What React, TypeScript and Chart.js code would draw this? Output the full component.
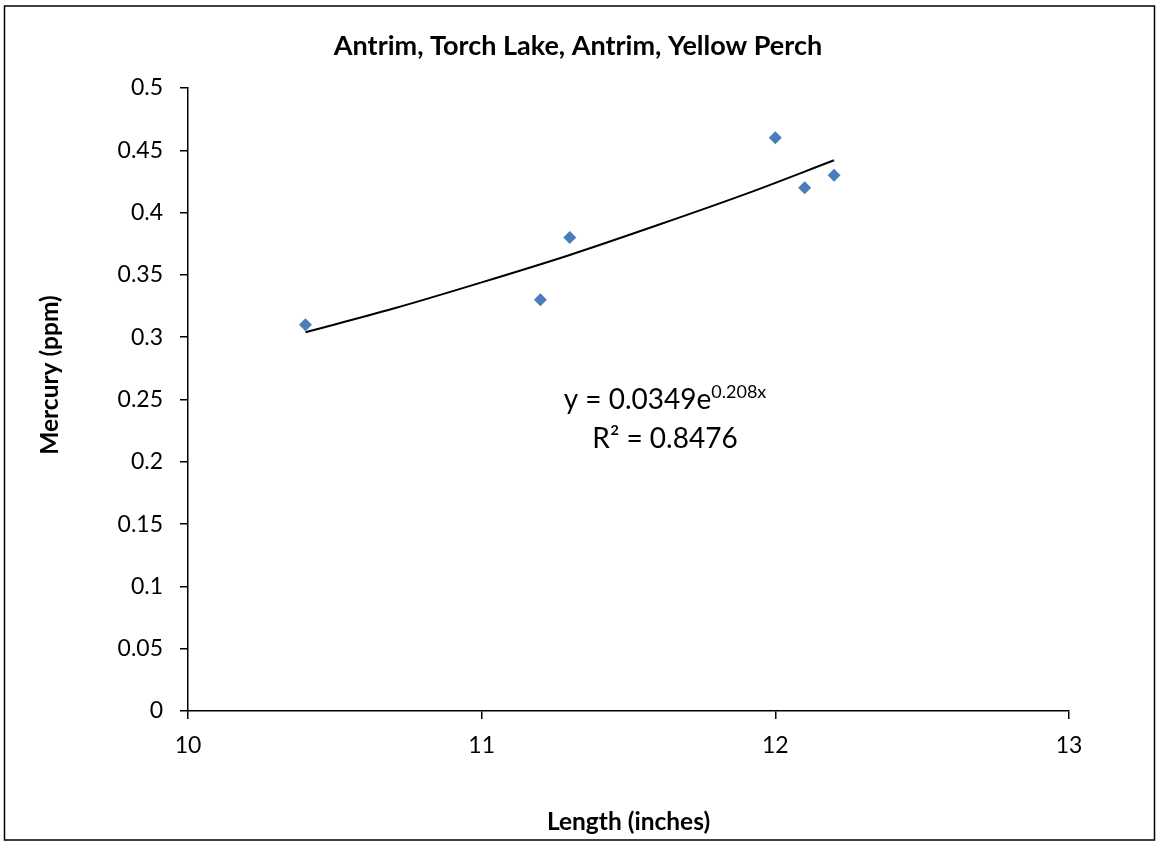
import { useEffect, useRef } from 'react';
import { Chart, registerables } from 'chart.js';

Chart.register(...registerables);

// ---- data ----
const chartTitle = 'Antrim, Torch Lake, Antrim, Yellow Perch';
const xAxisTitle = 'Length (inches)';
const yAxisTitle = 'Mercury (ppm)';

const lengths = [10.4, 11.2, 11.3, 12.0, 12.1, 12.2];
const mercury = [0.31, 0.33, 0.38, 0.46, 0.42, 0.43];

// trendline
const trendLengths = [10.4, 10.7, 11.0, 11.3, 11.6, 11.9, 12.2];
const trendMercury = [0.304, 0.323, 0.344, 0.366, 0.39, 0.415, 0.442];

const xTickLabels = ['10', '11', '12', '13'];
const yTickLabels = ['0', '0.05', '0.1', '0.15', '0.2', '0.25', '0.3', '0.35', '0.4', '0.45', '0.5'];

const equationMain = 'y = 0.0349e';
const equationExp = '0.208x';
const rSquared = 'R² = 0.8476';

const FONT = 'Lato, "Open Sans", sans-serif';

export default function App() {
  const ref = useRef<HTMLCanvasElement | null>(null);

  useEffect(() => {
    const canvas = ref.current;
    if (!canvas) return;

    const framePlugin = {
      id: 'frame',
      beforeDraw(chart: any) {
        const ctx = chart.ctx;
        ctx.save();
        ctx.fillStyle = '#ffffff';
        ctx.fillRect(0, 0, chart.width, chart.height);
        ctx.strokeStyle = '#000000';
        ctx.lineWidth = 1.5;
        ctx.strokeRect(4.5, 6, 1150, 834);
        ctx.restore();
      },
    };

    const annotPlugin = {
      id: 'annot',
      afterDraw(chart: any) {
        const ctx = chart.ctx;
        ctx.save();
        ctx.fillStyle = '#000000';
        ctx.textBaseline = 'alphabetic';
        ctx.textAlign = 'left';
        // equation
        const mainFont = `28px ${FONT}`;
        const supFont = `18px ${FONT}`;
        ctx.font = mainFont;
        const w1 = ctx.measureText(equationMain).width;
        ctx.font = supFont;
        const w2 = ctx.measureText(equationExp).width;
        const cx = 665;
        const start = cx - (w1 + w2) / 2;
        ctx.font = mainFont;
        ctx.fillText(equationMain, start, 409);
        ctx.font = supFont;
        ctx.fillText(equationExp, start + w1, 398);
        ctx.font = mainFont;
        ctx.textAlign = 'center';
        ctx.fillText(rSquared, cx, 448);

        // y axis title
        ctx.font = `bold 24.5px ${FONT}`;
        ctx.translate(50, 375);
        ctx.rotate(-Math.PI / 2);
        ctx.textAlign = 'center';
        ctx.textBaseline = 'middle';
        ctx.fillText(yAxisTitle, 0, 0);
        ctx.restore();
      },
    };

    const chart = new Chart(canvas, {
      type: 'scatter',
      data: {
        datasets: [
          {
            label: 'Mercury',
            data: lengths.map((x, i) => ({ x, y: mercury[i] })),
            pointStyle: 'rectRot',
            pointRadius: 6.5,
            pointBackgroundColor: '#4A7EBB',
            pointBorderColor: '#4A7EBB',
            pointBorderWidth: 0,
            showLine: false,
          },
          {
            label: 'Trend',
            data: trendLengths.map((x, i) => ({ x, y: trendMercury[i] })),
            showLine: true,
            borderColor: '#000000',
            borderWidth: 2,
            pointRadius: 0,
            fill: false,
            cubicInterpolationMode: 'monotone',
          } as any,
        ],
      },
      options: {
        animation: false,
        responsive: false,
        devicePixelRatio: 1,
        layout: { padding: 0 },
        plugins: {
          legend: { display: false },
          tooltip: { enabled: false },
          title: {
            display: true,
            text: chartTitle,
            color: '#000000',
            font: { family: FONT, size: 27, weight: 'bold' },
            padding: { top: 30, bottom: 25.6 },
          },
        },
        scales: {
          x: {
            type: 'linear',
            min: 10,
            max: 13,
            ticks: {
              stepSize: 1,
              color: '#000000',
              font: { family: FONT, size: 23 },
              padding: 13,
              callback: (_v: any, i: number) => xTickLabels[i],
            },
            grid: { drawOnChartArea: false, drawTicks: true, tickLength: 8, color: '#000000', lineWidth: 1.5 },
            border: { display: true, color: '#000000', width: 1.5 },
            title: {
              display: true,
              text: xAxisTitle,
              color: '#000000',
              font: { family: FONT, size: 24.5, weight: 'bold' },
              padding: { top: 0, bottom: 5.3 },
            },
            afterFit: (s: any) => {
              s.height = 131;
            },
          },
          y: {
            type: 'linear',
            min: 0,
            max: 0.5,
            ticks: {
              stepSize: 0.05,
              color: '#000000',
              font: { family: FONT, size: 23 },
              padding: 17,
              callback: (_v: any, i: number) => yTickLabels[i],
            },
            grid: { drawOnChartArea: false, drawTicks: true, tickLength: 8, color: '#000000', lineWidth: 1.5 },
            border: { display: true, color: '#000000', width: 1.5 },
            afterFit: (s: any) => {
              s.width = 188;
            },
          },
          y2: {
            type: 'linear',
            position: 'right',
            display: true,
            grid: { display: false },
            border: { display: false },
            ticks: { display: false },
            afterFit: (s: any) => {
              s.width = 87;
            },
          },
        },
      } as any,
      plugins: [framePlugin, annotPlugin],
    });

    return () => chart.destroy();
  }, []);

  return (
    <div style={{ position: 'absolute', left: 0, top: 0, width: 1156, height: 842 }}>
      <canvas ref={ref} width={1156} height={842} style={{ display: 'block', width: 1156, height: 842 }} />
    </div>
  );
}
